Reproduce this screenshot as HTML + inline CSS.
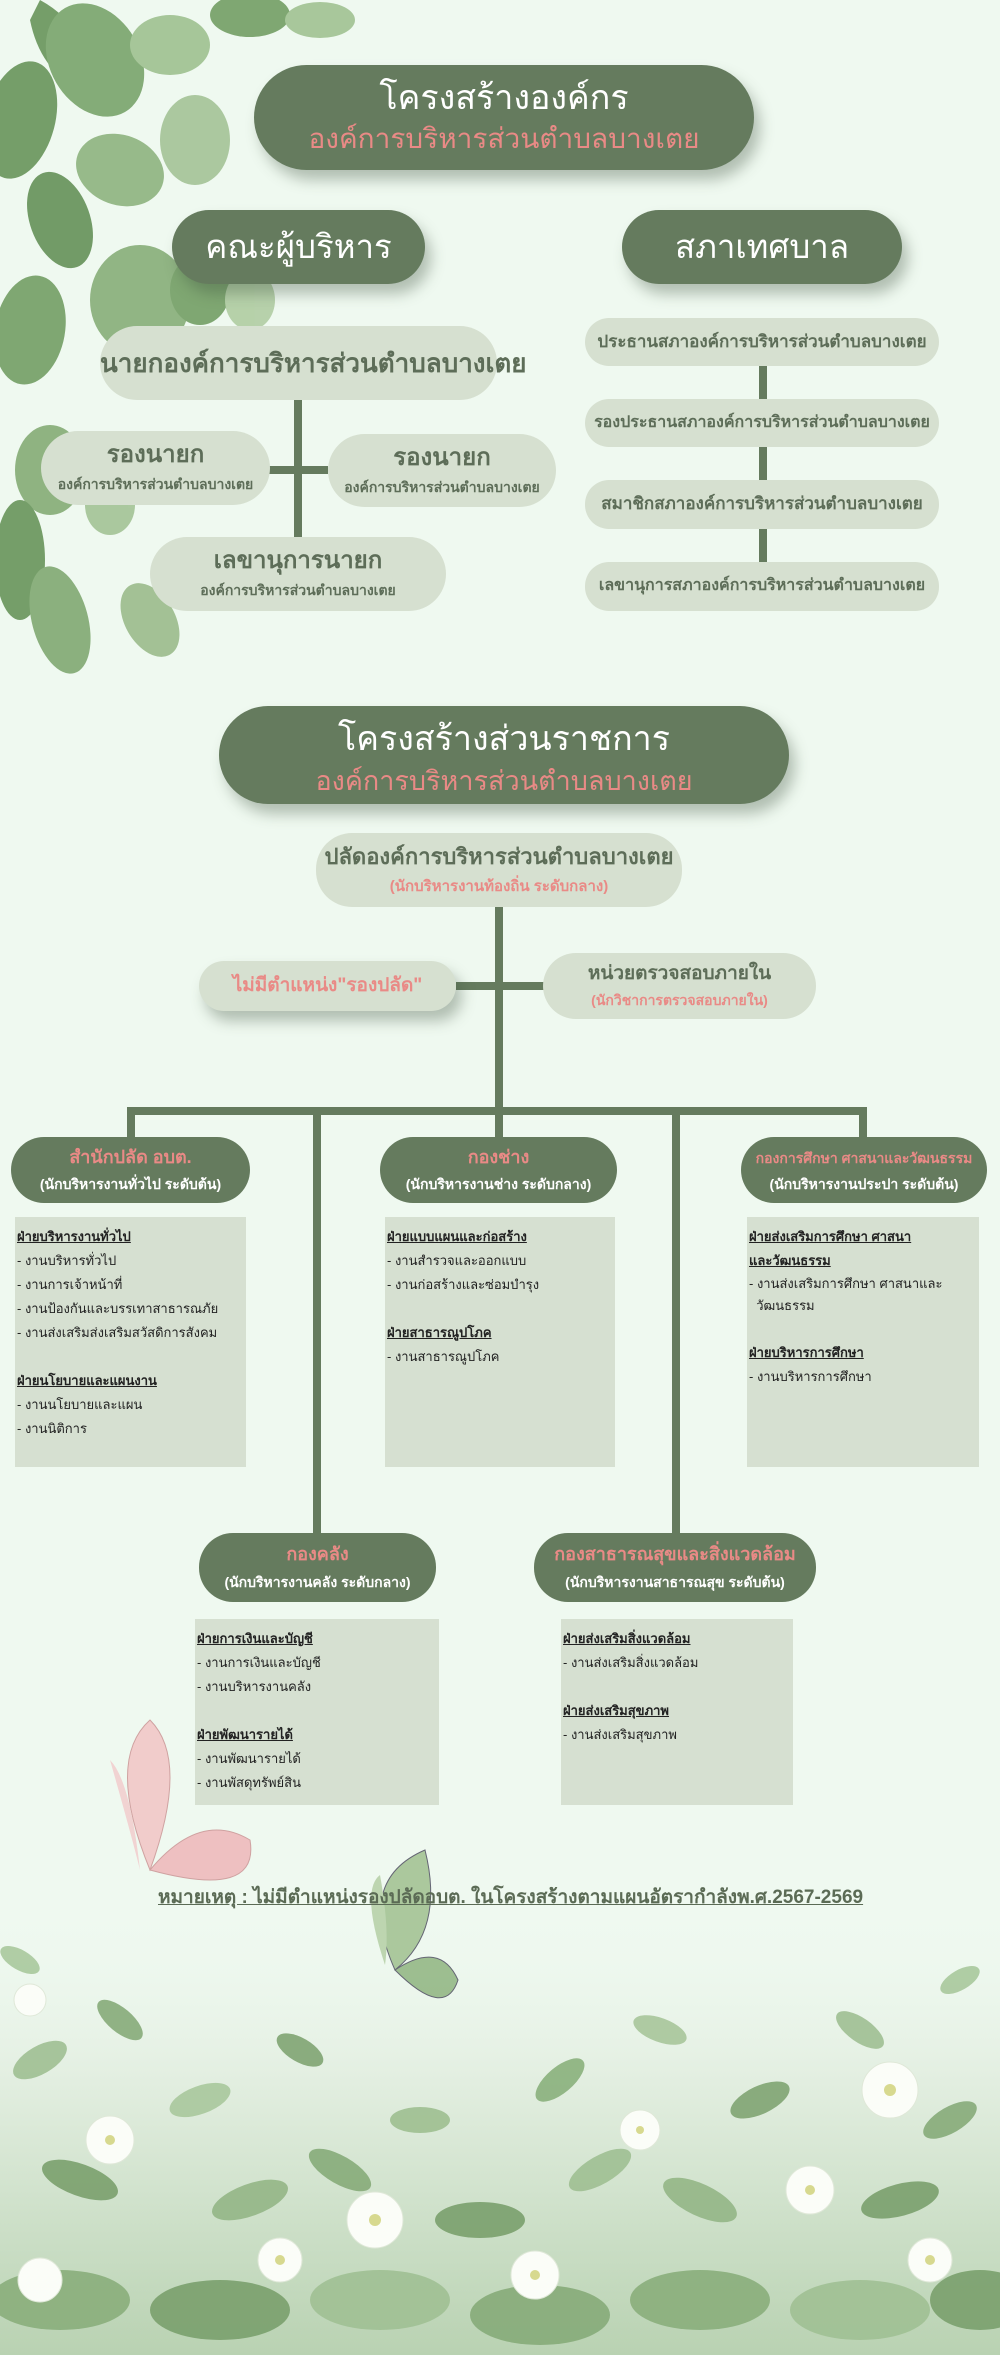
<!DOCTYPE html>
<html><head><meta charset="utf-8">
<style>
*{margin:0;padding:0;box-sizing:border-box}
body{width:1000px;height:2355px;background:#eff9f0;position:relative;overflow:hidden;font-family:"Liberation Sans",sans-serif}
.a{position:absolute}
.dk{background:#657b5e;color:#fff;border-radius:999px;text-align:center}
.lt{background:#d6e0d0;color:#5d6d58;border-radius:40px;text-align:center;font-weight:bold}
.sh{box-shadow:6px 10px 14px rgba(60,80,60,.35)}
.t{position:absolute;left:0;right:0;text-align:center;white-space:nowrap;line-height:1}
.pk{color:#e98a86}
.ln{position:absolute;background:#657b5e}
.cb{position:absolute;background:#d6e0d1;font-size:14px;color:#222;padding:8px 0 0 2px;line-height:24px}
.cb b{text-decoration:underline;display:block}
.cb div{white-space:nowrap}
.dp{position:absolute;background:#657b5e;border-radius:34px;text-align:center;color:#fff;font-weight:bold}
</style></head><body>

<!-- top-left leaves -->
<svg class="a" style="left:0;top:0" width="400" height="700" viewBox="0 0 400 700">
<g opacity=".95">
<path d="M40 0 Q95 30 80 90 Q40 70 30 20Z" fill="#6f9a62"/>
<ellipse cx="95" cy="60" rx="45" ry="60" transform="rotate(-30 95 60)" fill="#7fa872"/>
<ellipse cx="170" cy="45" rx="40" ry="30" fill="#a3c495"/>
<ellipse cx="250" cy="15" rx="40" ry="22" fill="#7aa36c"/>
<ellipse cx="320" cy="20" rx="35" ry="18" fill="#a5c597"/>
<ellipse cx="20" cy="120" rx="35" ry="60" transform="rotate(15 20 120)" fill="#6f9a62"/>
<ellipse cx="120" cy="170" rx="45" ry="35" transform="rotate(20 120 170)" fill="#93b785"/>
<ellipse cx="60" cy="220" rx="30" ry="50" transform="rotate(-20 60 220)" fill="#6c9660"/>
<ellipse cx="195" cy="140" rx="35" ry="45" fill="#a8c69b"/>
<ellipse cx="140" cy="300" rx="50" ry="55" fill="#8db27f"/>
<ellipse cx="30" cy="330" rx="35" ry="55" transform="rotate(10 30 330)" fill="#7aa36c"/>
<ellipse cx="200" cy="290" rx="30" ry="35" fill="#7aa36c"/>
<ellipse cx="250" cy="300" rx="25" ry="30" fill="#b3cfa6"/>
<ellipse cx="50" cy="470" rx="35" ry="45" fill="#8ab07c"/>
<ellipse cx="20" cy="560" rx="25" ry="60" fill="#6f9a62"/>
<ellipse cx="60" cy="620" rx="28" ry="55" transform="rotate(-15 60 620)" fill="#86ad78"/>
<ellipse cx="110" cy="505" rx="25" ry="30" fill="#a7c69a"/>
<ellipse cx="150" cy="620" rx="25" ry="40" transform="rotate(-30 150 620)" fill="#9fbf91"/>
</g>
</svg>

<!-- Section 1 -->
<div class="a dk sh" style="left:254px;top:65px;width:500px;height:105px">
 <div class="t" style="top:16px;font-size:34px">โครงสร้างองค์กร</div>
 <div class="t pk" style="top:60px;font-size:28px">องค์การบริหารส่วนตำบลบางเตย</div>
</div>
<div class="a dk sh" style="left:172px;top:210px;width:253px;height:74px"><div class="t" style="top:20px;font-size:33px">คณะผู้บริหาร</div></div>
<div class="a dk sh" style="left:622px;top:210px;width:280px;height:74px"><div class="t" style="top:20px;font-size:33px">สภาเทศบาล</div></div>

<div class="ln" style="left:294px;top:395px;width:8px;height:145px"></div>
<div class="ln" style="left:268px;top:466px;width:60px;height:8px"></div>
<div class="a lt" style="left:100px;top:326px;width:397px;height:74px"><div class="t" style="top:24px;font-size:26px">นายกองค์การบริหารส่วนตำบลบางเตย</div></div>
<div class="a lt" style="left:41px;top:431px;width:229px;height:74px"><div class="t" style="top:12px;font-size:24px">รองนายก</div><div class="t" style="top:46px;font-size:14px">องค์การบริหารส่วนตำบลบางเตย</div></div>
<div class="a lt" style="left:328px;top:434px;width:228px;height:73px"><div class="t" style="top:12px;font-size:24px">รองนายก</div><div class="t" style="top:46px;font-size:14px">องค์การบริหารส่วนตำบลบางเตย</div></div>
<div class="a lt" style="left:150px;top:537px;width:296px;height:74px"><div class="t" style="top:12px;font-size:24px">เลขานุการนายก</div><div class="t" style="top:46px;font-size:14px">องค์การบริหารส่วนตำบลบางเตย</div></div>

<div class="ln" style="left:759px;top:330px;width:8px;height:250px"></div>
<div class="a lt" style="left:585px;top:318px;width:354px;height:48px;border-radius:24px"><div class="t" style="top:15px;font-size:17px">ประธานสภาองค์การบริหารส่วนตำบลบางเตย</div></div>
<div class="a lt" style="left:585px;top:399px;width:354px;height:48px;border-radius:24px"><div class="t" style="top:16px;font-size:16px">รองประธานสภาองค์การบริหารส่วนตำบลบางเตย</div></div>
<div class="a lt" style="left:585px;top:480px;width:354px;height:49px;border-radius:24px"><div class="t" style="top:15px;font-size:17px">สมาชิกสภาองค์การบริหารส่วนตำบลบางเตย</div></div>
<div class="a lt" style="left:585px;top:562px;width:354px;height:49px;border-radius:24px"><div class="t" style="top:16px;font-size:16px">เลขานุการสภาองค์การบริหารส่วนตำบลบางเตย</div></div>

<!-- Section 2 -->
<div class="a dk sh" style="left:219px;top:706px;width:570px;height:98px">
 <div class="t" style="top:16px;font-size:34px">โครงสร้างส่วนราชการ</div>
 <div class="t pk" style="top:62px;font-size:27px">องค์การบริหารส่วนตำบลบางเตย</div>
</div>
<div class="ln" style="left:495px;top:900px;width:8px;height:240px"></div>
<div class="ln" style="left:456px;top:982px;width:90px;height:8px"></div>
<div class="ln" style="left:128px;top:1107px;width:739px;height:8px"></div>
<div class="ln" style="left:127px;top:1107px;width:8px;height:35px"></div>
<div class="ln" style="left:313px;top:1107px;width:8px;height:430px"></div>
<div class="ln" style="left:672px;top:1107px;width:8px;height:430px"></div>
<div class="ln" style="left:859px;top:1107px;width:8px;height:35px"></div>

<div class="a lt" style="left:316px;top:833px;width:366px;height:74px;border-radius:36px"><div class="t" style="top:13px;font-size:22px">ปลัดองค์การบริหารส่วนตำบลบางเตย</div><div class="t pk" style="top:46px;font-size:15px">(นักบริหารงานท้องถิ่น ระดับกลาง)</div></div>
<div class="a lt sh" style="left:199px;top:961px;width:257px;height:50px;border-radius:25px"><div class="t pk" style="top:15px;font-size:19px">ไม่มีตำแหน่ง"รองปลัด"</div></div>
<div class="a lt" style="left:543px;top:953px;width:273px;height:66px;border-radius:33px"><div class="t" style="top:11px;font-size:19px">หน่วยตรวจสอบภายใน</div><div class="t pk" style="top:40px;font-size:14px">(นักวิชาการตรวจสอบภายใน)</div></div>

<div class="dp" style="left:11px;top:1137px;width:239px;height:66px"><div class="t pk" style="top:11px;font-size:18px">สำนักปลัด อบต.</div><div class="t" style="top:40px;font-size:14px">(นักบริหารงานทั่วไป ระดับต้น)</div></div>
<div class="dp" style="left:380px;top:1137px;width:237px;height:66px"><div class="t pk" style="top:11px;font-size:18px">กองช่าง</div><div class="t" style="top:40px;font-size:14px">(นักบริหารงานช่าง ระดับกลาง)</div></div>
<div class="dp" style="left:741px;top:1137px;width:246px;height:66px"><div class="t pk" style="top:14px;font-size:14px">กองการศึกษา ศาสนาและวัฒนธรรม</div><div class="t" style="top:40px;font-size:14px">(นักบริหารงานประปา ระดับต้น)</div></div>

<div class="cb" style="left:15px;top:1217px;width:231px;height:250px;font-size:13px"><b>ฝ่ายบริหารงานทั่วไป</b><div>- งานบริหารทั่วไป</div><div>- งานการเจ้าหน้าที่</div><div>- งานป้องกันและบรรเทาสาธารณภัย</div><div>- งานส่งเสริมส่งเสริมสวัสดิการสังคม</div><div>&nbsp;</div><b>ฝ่ายนโยบายและแผนงาน</b><div>- งานนโยบายและแผน</div><div>- งานนิติการ</div></div>
<div class="cb" style="left:385px;top:1217px;width:230px;height:250px;font-size:13px"><b>ฝ่ายแบบแผนและก่อสร้าง</b><div>- งานสำรวจและออกแบบ</div><div>- งานก่อสร้างและซ่อมบำรุง</div><div>&nbsp;</div><b>ฝ่ายสาธารณูปโภค</b><div>- งานสาธารณูปโภค</div></div>
<div class="cb" style="left:747px;top:1217px;width:232px;height:250px;font-size:13px"><b>ฝ่ายส่งเสริมการศึกษา ศาสนา</b><b>และวัฒนธรรม</b><div style="line-height:22px">- งานส่งเสริมการศึกษา ศาสนาและ</div><div style="line-height:22px">&nbsp;&nbsp;วัฒนธรรม</div><div>&nbsp;</div><b>ฝ่ายบริหารการศึกษา</b><div>- งานบริหารการศึกษา</div></div>

<div class="dp" style="left:199px;top:1533px;width:237px;height:69px"><div class="t pk" style="top:12px;font-size:18px">กองคลัง</div><div class="t" style="top:42px;font-size:14px">(นักบริหารงานคลัง ระดับกลาง)</div></div>
<div class="dp" style="left:534px;top:1533px;width:282px;height:69px"><div class="t pk" style="top:12px;font-size:18px">กองสาธารณสุขและสิ่งแวดล้อม</div><div class="t" style="top:42px;font-size:14px">(นักบริหารงานสาธารณสุข ระดับต้น)</div></div>

<div class="cb" style="left:195px;top:1619px;width:244px;height:186px;font-size:13px"><b>ฝ่ายการเงินและบัญชี</b><div>- งานการเงินและบัญชี</div><div>- งานบริหารงานคลัง</div><div>&nbsp;</div><b>ฝ่ายพัฒนารายได้</b><div>- งานพัฒนารายได้</div><div>- งานพัสดุทรัพย์สิน</div></div>
<div class="cb" style="left:561px;top:1619px;width:232px;height:186px;font-size:13px"><b>ฝ่ายส่งเสริมสิ่งแวดล้อม</b><div>- งานส่งเสริมสิ่งแวดล้อม</div><div>&nbsp;</div><b>ฝ่ายส่งเสริมสุขภาพ</b><div>- งานส่งเสริมสุขภาพ</div></div>

<!-- bottom greenery -->
<svg class="a" style="left:0;top:1700px" width="1000" height="655" viewBox="0 0 1000 655">
<defs><linearGradient id="g" x1="0" y1="0" x2="0" y2="1"><stop offset="0" stop-color="#eff9f0" stop-opacity="0"/><stop offset=".4" stop-color="#e2eee0"/><stop offset="1" stop-color="#b9d2b2"/></linearGradient></defs>
<rect x="0" y="200" width="1000" height="455" fill="url(#g)"/>
<g opacity=".9">
<ellipse cx="40" cy="360" rx="30" ry="14" fill="#9fbf92" transform="rotate(-30 40 360)"/>
<ellipse cx="120" cy="320" rx="28" ry="12" fill="#86ab79" transform="rotate(40 120 320)"/>
<ellipse cx="200" cy="400" rx="32" ry="14" fill="#a9c89c" transform="rotate(-20 200 400)"/>
<ellipse cx="300" cy="350" rx="26" ry="12" fill="#7fa472" transform="rotate(30 300 350)"/>
<ellipse cx="420" cy="420" rx="30" ry="13" fill="#9ebf90"/>
<ellipse cx="560" cy="380" rx="30" ry="13" fill="#8ab07c" transform="rotate(-40 560 380)"/>
<ellipse cx="660" cy="330" rx="28" ry="12" fill="#a7c69a" transform="rotate(20 660 330)"/>
<ellipse cx="760" cy="400" rx="32" ry="14" fill="#7fa472" transform="rotate(-25 760 400)"/>
<ellipse cx="860" cy="330" rx="28" ry="12" fill="#9fbf92" transform="rotate(35 860 330)"/>
<ellipse cx="950" cy="420" rx="30" ry="13" fill="#86ab79" transform="rotate(-30 950 420)"/>
<ellipse cx="960" cy="280" rx="22" ry="10" fill="#a9c89c" transform="rotate(-30 960 280)"/>
<ellipse cx="20" cy="260" rx="22" ry="10" fill="#a9c89c" transform="rotate(30 20 260)"/>
<ellipse cx="80" cy="480" rx="40" ry="16" fill="#7aa06c" transform="rotate(20 80 480)"/>
<ellipse cx="250" cy="500" rx="40" ry="16" fill="#93b686" transform="rotate(-20 250 500)"/>
<ellipse cx="340" cy="470" rx="35" ry="14" fill="#86ab79" transform="rotate(30 340 470)"/>
<ellipse cx="480" cy="520" rx="45" ry="18" fill="#7aa06c"/>
<ellipse cx="600" cy="470" rx="35" ry="14" fill="#9fbf92" transform="rotate(-30 600 470)"/>
<ellipse cx="700" cy="500" rx="40" ry="16" fill="#93b686" transform="rotate(25 700 500)"/>
<ellipse cx="900" cy="500" rx="40" ry="16" fill="#7aa06c" transform="rotate(-15 900 500)"/>
<ellipse cx="60" cy="600" rx="70" ry="30" fill="#89ae7b"/>
<ellipse cx="220" cy="610" rx="70" ry="30" fill="#7aa06c"/>
<ellipse cx="380" cy="600" rx="70" ry="30" fill="#a0c093"/>
<ellipse cx="540" cy="615" rx="70" ry="30" fill="#86ab79"/>
<ellipse cx="700" cy="600" rx="70" ry="30" fill="#89ae7b"/>
<ellipse cx="860" cy="610" rx="70" ry="30" fill="#a0c093"/>
<ellipse cx="980" cy="600" rx="50" ry="30" fill="#7aa06c"/>
</g>
<g fill="#fbfdf8" stroke="#dfe8d8">
<circle cx="110" cy="440" r="24"/><circle cx="375" cy="520" r="28"/><circle cx="280" cy="560" r="22"/><circle cx="535" cy="575" r="24"/><circle cx="890" cy="390" r="28"/><circle cx="810" cy="490" r="24"/><circle cx="40" cy="580" r="22"/><circle cx="640" cy="430" r="20"/><circle cx="30" cy="300" r="16"/><circle cx="930" cy="560" r="22"/>
</g>
<g fill="#d7d98f"><circle cx="110" cy="440" r="5"/><circle cx="375" cy="520" r="6"/><circle cx="280" cy="560" r="5"/><circle cx="535" cy="575" r="5"/><circle cx="890" cy="390" r="6"/><circle cx="810" cy="490" r="5"/><circle cx="640" cy="430" r="4"/><circle cx="930" cy="560" r="5"/></g>
<!-- pink butterfly -->
<g opacity=".9"><path d="M150 170 Q105 60 150 20 Q190 60 150 170Z" fill="#f2c8c8" stroke="#c99" stroke-width="1"/><path d="M150 170 Q200 110 250 140 Q260 200 150 170Z" fill="#eebabd" stroke="#c99" stroke-width="1"/><path d="M140 170 Q130 80 110 60 Q130 130 140 170Z" fill="#f2cfcf"/></g>
<!-- green butterfly -->
<g opacity=".9"><path d="M395 270 Q355 180 425 150 Q445 230 395 270Z" fill="#a3c294" stroke="#556" stroke-width="1"/><path d="M395 270 Q440 240 458 280 Q445 320 395 270Z" fill="#94b786" stroke="#556" stroke-width="1"/><path d="M385 265 Q360 190 380 175 Q390 230 385 265Z" fill="#b7d1a9"/></g>
</svg>

<div class="a" style="left:158px;top:1882px;width:690px;text-align:center;font-size:19px;font-weight:bold;color:#5b6b55;text-decoration:underline;white-space:nowrap">หมายเหตุ : ไม่มีตำแหน่งรองปลัดอบต. ในโครงสร้างตามแผนอัตรากำลังพ.ศ.2567-2569</div>
</body></html>
